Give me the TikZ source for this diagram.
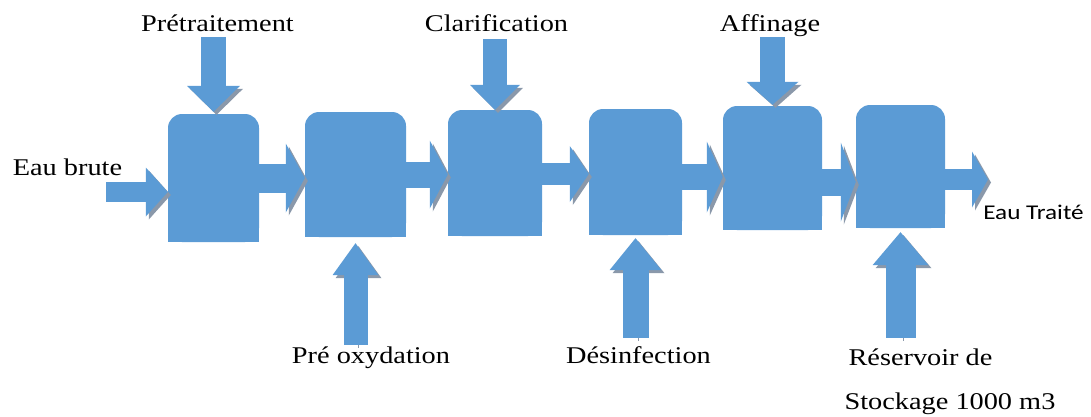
\documentclass[tikz,border=0pt]{standalone}
\usepackage{fontspec}
\setmainfont{Liberation Serif}[FakeStretch=1.18]
\newfontfamily\sortiefont{Carlito}[FakeStretch=1.2]
\usepackage{xcolor}
\usepackage{tikz}
\usetikzlibrary{positioning}
\usetikzlibrary{calc}
\usetikzlibrary{arrows.meta}
\definecolor{bassinblue}{RGB}{91,155,213}
\definecolor{ombre}{RGB}{138,152,170}
\tikzstyle{bassin} = [fill=bassinblue, rounded corners=14pt, inner sep=0pt]
\tikzstyle{etape} = [font=\fontsize{24}{28}\selectfont, inner sep=1pt, text height=17pt, text depth=5pt, anchor=base]
\tikzstyle{flux} = [draw=bassinblue, preaction={draw=ombre, transform canvas={shift={(3,3)}}}]

\begin{document}
\begin{tikzpicture}[x=1pt,y=-1pt]
      \useasboundingbox (0,0) rectangle (1091,416);
      % bassins
      \node[bassin, minimum width=91pt, minimum height=128pt] (b1) at (213.5,178) {};
      \node[bassin, minimum width=101pt, minimum height=125pt] (b2) at (355.5,174.5) {};
      \node[bassin, minimum width=94pt, minimum height=126pt] (b3) at (495,173) {};
      \node[bassin, minimum width=93pt, minimum height=126pt] (b4) at (635.5,172) {};
      \node[bassin, minimum width=99pt, minimum height=124pt] (b5) at (772.5,168) {};
      \node[bassin, minimum width=89pt, minimum height=123pt] (b6) at (900.5,166.5) {};
      \fill[bassinblue] (b1.west) rectangle (b1.south east);
      \fill[bassinblue] (b2.west) rectangle (b2.south east);
      \fill[bassinblue] (b3.west) rectangle (b3.south east);
      \fill[bassinblue] (b4.west) rectangle (b4.south east);
      \fill[bassinblue] (b5.west) rectangle (b5.south east);
      \fill[bassinblue] (b6.west) rectangle (b6.south east);
      % textes
      \node[etape] (lpre) at (217.5,31) {Prétraitement};
      \node[etape] (lcla) at (496.5,31) {Clarification};
      \node[etape] (laff) at (770,31) {Affinage};
      \node[etape] (lbrute) at (67.5,175) {Eau brute};
      \node[etape] (loxy) at (371,363) {Pré oxydation};
      \node[etape] (ldes) at (638.5,363) {Désinfection};
      \node[etape] (lres) at (920.5,365) {Réservoir de};
      \node[etape] (lsto) at (950,409) {Stockage 1000 m3};
      \node[etape, font=\sortiefont\fontsize{21}{25}\selectfont] (ltraite) at (1033.5,219) {Eau Traité};
      \coordinate (entree) at (106,192);
      \coordinate (sortie) at (988,179.5);
      % fleches horizontales
      \draw[flux, line width=20pt, -{Triangle[length=22pt, width=49pt, line width=0pt]}] (entree) -- (entree -| b1.west);
      \draw[flux, line width=29pt, -{Triangle[length=19pt, width=69pt, line width=0pt]}] (b1.east) -- (b1.east -| b2.west);
      \draw[flux, line width=26pt, -{Triangle[length=18pt, width=68pt, line width=0pt]}] (b2.east) -- (b2.east -| b3.west);
      \draw[flux, line width=22pt, -{Triangle[length=19pt, width=56pt, line width=0pt]}] ([yshift=-1pt]b3.east) -- ([yshift=-1pt]b3.east -| b4.west);
      \draw[flux, line width=26pt, -{Triangle[length=16pt, width=71pt, line width=0pt]}] ([yshift=-5pt]b4.east) -- ([yshift=-5pt]b4.east -| b5.west);
      \draw[flux, line width=27pt, -{Triangle[length=15pt, width=79pt, line width=0pt]}] ([yshift=-14pt]b5.east) -- ([yshift=-14pt]b5.east -| b6.west);
      \draw[flux, line width=21pt, -{Triangle[length=16pt, width=56pt, line width=0pt]}] (sortie -| b6.east) -- (sortie);
      % fleches verticales
      \draw[flux, line width=25pt, shorten >=2pt, -{Triangle[length=26pt, width=53pt, line width=0pt]}] (lpre.south -| b1.north) -- (b1.north);
      \draw[flux, line width=24pt, shorten <=2pt, -{Triangle[length=25pt, width=50pt, line width=0pt]}] (lcla.south -| b3.north) -- (b3.north);
      \draw[flux, line width=25pt, shorten >=1pt, -{Triangle[length=23pt, width=52pt, line width=0pt]}] (laff.south -| b5.north) -- (b5.north);
      \draw[flux, line width=24pt, shorten >=6pt, -{Triangle[length=32pt, width=46pt, line width=0pt]}] (loxy.north -| b2.south) -- (b2.south);
      \draw[flux, line width=26pt, shorten <=7pt, shorten >=3pt, -{Triangle[length=32pt, width=52pt, line width=0pt]}] (ldes.north -| b4.south) -- (b4.south);
      \draw[flux, line width=30pt, shorten <=9pt, shorten >=4pt, -{Triangle[length=33pt, width=56pt, line width=0pt]}] (lres.north -| b6.south) -- (b6.south);
\end{tikzpicture}
\end{document}
